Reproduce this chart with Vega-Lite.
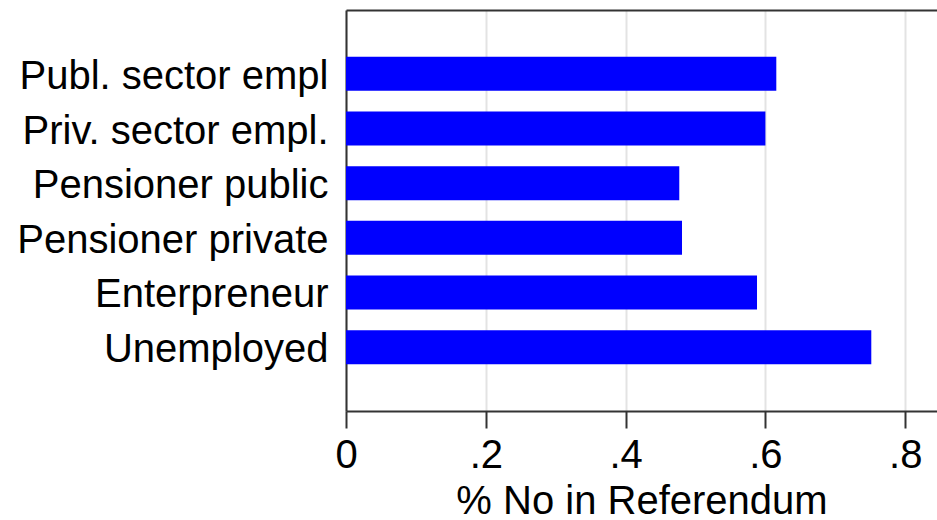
{
  "$schema": "https://vega.github.io/schema/vega-lite/v6.json",
  "autosize": {"type": "none"},
  "padding": {"left": 346, "top": 10, "right": 0, "bottom": 109},
  "width": 591,
  "height": 401,
  "background": "white",
  "config": {
    "view": {"stroke": null},
    "font": "Liberation Sans",
    "axis": {
      "domainColor": "#333333",
      "domainWidth": 2,
      "tickColor": "#333333",
      "tickWidth": 2,
      "labelColor": "black",
      "titleColor": "black",
      "labelFont": "Liberation Sans",
      "titleFont": "Liberation Sans",
      "labelFontSize": 40,
      "titleFontSize": 40,
      "titleFontWeight": "normal"
    }
  },
  "data": {
    "values": [
      {"group": "Publ. sector empl", "no": 0.6156},
      {"group": "Priv. sector empl.", "no": 0.600},
      {"group": "Pensioner public", "no": 0.4768},
      {"group": "Pensioner private", "no": 0.4807},
      {"group": "Enterpreneur", "no": 0.588},
      {"group": "Unemployed", "no": 0.7515}
    ]
  },
  "resolve": {"axis": {"x": "independent"}},
  "layer": [
    {
      "mark": {"type": "bar", "color": "#0000ff"},
      "encoding": {
        "y": {
          "field": "group",
          "type": "nominal",
          "sort": null,
          "scale": {"paddingInner": 0.378, "paddingOuter": 0.857},
          "axis": {
            "title": null,
            "ticks": false,
            "tickSize": 0,
            "labelPadding": 18,
            "labelOffset": 3,
            "labelLimit": 400,
            "domain": true
          }
        },
        "x": {
          "field": "no",
          "type": "quantitative",
          "scale": {"domain": [0, 0.8455], "nice": false, "zero": true},
          "axis": {
            "title": "% No in Referendum",
            "values": [0, 0.2, 0.4, 0.6, 0.8],
            "labelExpr": "datum.value == 0 ? '0' : '.' + round(datum.value * 10)",
            "tickSize": 17,
            "labelPadding": 7,
            "labelFlush": false,
            "titlePadding": 6,
            "grid": true,
            "gridColor": "#e3e3e3",
            "gridWidth": 2
          }
        }
      }
    },
    {
      "mark": {"type": "bar", "opacity": 0},
      "encoding": {
        "y": {"field": "group", "type": "nominal", "sort": null},
        "x": {
          "field": "no",
          "type": "quantitative",
          "axis": {
            "orient": "top",
            "labels": false,
            "ticks": false,
            "grid": false,
            "domain": true,
            "title": null
          }
        }
      }
    }
  ]
}
